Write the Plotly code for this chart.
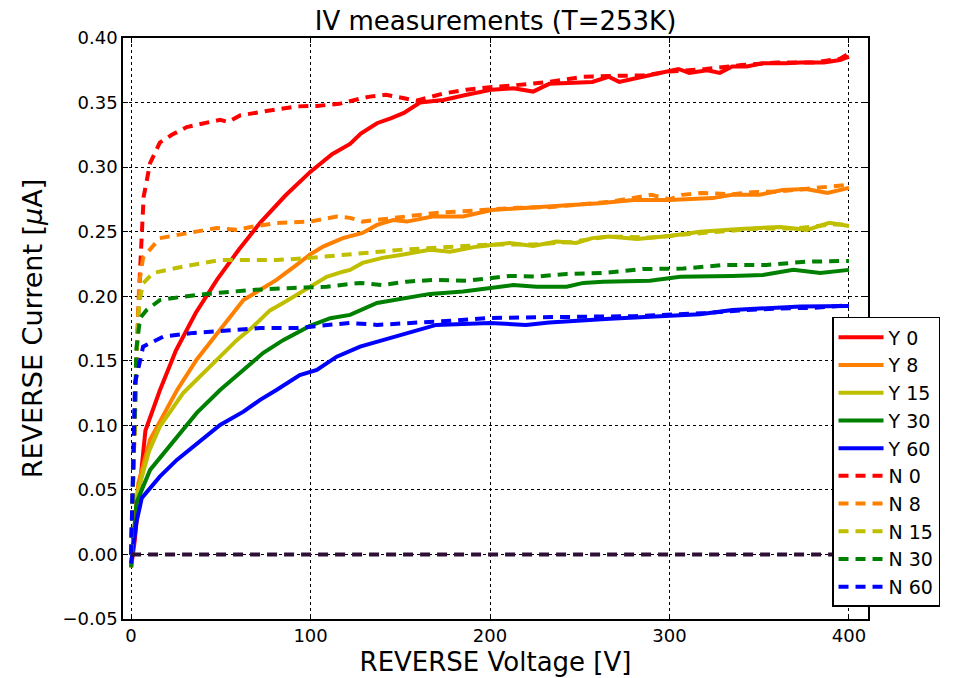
import plotly.graph_objects as go

# ---------------- data ----------------
y0_v = [0, 2, 5, 8, 16, 25, 36, 48, 60, 72, 86, 100, 112, 122, 128, 137, 145, 152, 161, 174, 187, 201, 213, 224, 233, 245, 257, 266, 272, 285, 300, 305, 311, 321, 328, 335, 343, 352, 365, 373, 386, 395, 400]
y0_i = [-0.01, 0.01, 0.055, 0.096, 0.127, 0.158, 0.187, 0.213, 0.236, 0.257, 0.278, 0.2965, 0.310, 0.318, 0.326, 0.334, 0.338, 0.342, 0.350, 0.352, 0.356, 0.360, 0.361, 0.3585, 0.3645, 0.365, 0.366, 0.370, 0.366, 0.370, 0.374, 0.376, 0.373, 0.375, 0.373, 0.378, 0.378, 0.3805, 0.3805, 0.381, 0.381, 0.383, 0.3855]

y8_v = [0, 2, 4, 10.6, 18, 25.5, 36.6, 49.6, 62.6, 72, 81, 90, 100, 107, 118, 129, 137, 146, 153.6, 168, 185, 201, 215, 233, 252, 261, 280, 300, 324, 335, 350, 363, 376, 388, 400]
y8_i = [-0.01, 0.025, 0.055, 0.089, 0.108, 0.127, 0.151, 0.174, 0.197, 0.205, 0.2126, 0.222, 0.2325, 0.2384, 0.245, 0.249, 0.2552, 0.259, 0.2578, 0.2617, 0.2617, 0.2668, 0.268, 0.269, 0.2707, 0.272, 0.2746, 0.2746, 0.276, 0.2785, 0.2785, 0.2823, 0.283, 0.280, 0.2839]

y15_v = [0, 2, 4, 10, 16, 29, 38.4, 49.6, 58.9, 68, 77.4, 84.7, 94, 99.7, 109, 118, 122, 129, 140, 150, 166.6, 177.7, 192.6, 201, 211, 224, 237, 248, 257, 266, 282, 300, 317, 339, 361.6, 376.6, 389, 400]
y15_i = [-0.01, 0.02, 0.05, 0.08, 0.099, 0.125, 0.1377, 0.153, 0.166, 0.1765, 0.189, 0.1948, 0.2025, 0.2074, 0.215, 0.219, 0.2204, 0.2258, 0.2297, 0.232, 0.2359, 0.2345, 0.2384, 0.2397, 0.2413, 0.239, 0.2423, 0.2413, 0.245, 0.2462, 0.2444, 0.2467, 0.250, 0.252, 0.2537, 0.2514, 0.2568, 0.2544]

y30_v = [0, 3, 10.6, 25.5, 36.6, 49.6, 62.6, 73.5, 84.7, 99.7, 111, 122, 137, 150, 166.6, 185, 200, 213, 226, 242.7, 252, 263, 289, 306, 335, 352, 369, 384, 400]
y30_i = [-0.01, 0.04, 0.0655, 0.0912, 0.1096, 0.1274, 0.143, 0.156, 0.166, 0.177, 0.183, 0.1855, 0.1948, 0.198, 0.2018, 0.2036, 0.2064, 0.2087, 0.2074, 0.2074, 0.2103, 0.2113, 0.212, 0.215, 0.2157, 0.2165, 0.2204, 0.218, 0.2204]

y60_v = [0, 3, 6, 16, 25.5, 38.4, 49.6, 62.6, 71.9, 81, 94, 103.5, 114.6, 127.6, 140, 159, 170, 185, 200, 220, 233, 266.8, 298.6, 317, 335, 354, 373, 400]
y60_i = [-0.007, 0.025, 0.0438, 0.0603, 0.0732, 0.0874, 0.1003, 0.1106, 0.1197, 0.1274, 0.139, 0.1429, 0.1532, 0.161, 0.166, 0.173, 0.1778, 0.1785, 0.1793, 0.1778, 0.1796, 0.1825, 0.1845, 0.186, 0.1894, 0.191, 0.192, 0.1925]

n0_v = [0, 1.5, 3, 5, 7, 10.6, 16, 22.7, 31, 44, 49.6, 54, 60.7, 73.5, 92, 103.5, 116, 127.6, 133, 142, 152, 159, 174, 187, 201, 211, 233, 252, 266, 285, 300, 320, 340, 360, 380, 395, 400]
n0_i = [0.0, 0.08, 0.15, 0.22, 0.277, 0.303, 0.319, 0.325, 0.331, 0.335, 0.3366, 0.335, 0.340, 0.343, 0.347, 0.3474, 0.349, 0.353, 0.3546, 0.356, 0.3536, 0.3515, 0.357, 0.360, 0.362, 0.363, 0.366, 0.370, 0.3706, 0.371, 0.374, 0.376, 0.379, 0.381, 0.381, 0.384, 0.388]

n8_v = [0, 1.5, 3, 4.5, 6.7, 16, 25.5, 36.6, 47.7, 58.9, 68, 81, 99.7, 114.6, 122, 129, 146, 159, 170, 181.5, 200, 215, 233, 252, 266, 290, 300, 307, 318, 335, 346, 360, 376, 388, 399]
n8_i = [0.0, 0.08, 0.15, 0.21, 0.230, 0.245, 0.2475, 0.250, 0.2529, 0.2514, 0.254, 0.2567, 0.2578, 0.2617, 0.2607, 0.2578, 0.2607, 0.263, 0.2645, 0.2655, 0.2675, 0.2685, 0.269, 0.271, 0.273, 0.2785, 0.275, 0.2785, 0.280, 0.279, 0.2806, 0.281, 0.283, 0.2849, 0.2862]

n15_v = [0, 1.5, 3, 4.5, 6.7, 12.3, 29, 49.6, 81, 99.7, 118, 127.6, 137, 150, 168, 181.5, 200, 224, 245, 266, 290, 310, 330, 350, 370, 390, 400]
n15_i = [0.0, 0.08, 0.15, 0.195, 0.21, 0.218, 0.223, 0.228, 0.228, 0.2297, 0.232, 0.2328, 0.2345, 0.2359, 0.2374, 0.2384, 0.240, 0.240, 0.242, 0.2462, 0.2455, 0.248, 0.250, 0.2525, 0.2525, 0.2555, 0.2555]

n30_v = [0, 1.5, 3, 5, 8.7, 16, 29, 47.7, 68, 90, 109, 127.6, 140, 153.6, 168, 187, 200, 211, 226, 242.7, 263, 285, 307.6, 330, 354, 376.6, 400]
n30_i = [0.0, 0.08, 0.16, 0.183, 0.1893, 0.197, 0.1997, 0.2025, 0.2049, 0.2064, 0.2074, 0.2103, 0.2087, 0.2113, 0.2126, 0.212, 0.2142, 0.2157, 0.2152, 0.2173, 0.218, 0.2211, 0.2214, 0.2242, 0.2242, 0.2268, 0.2273]

n60_v = [0, 1, 2.2, 5, 6.7, 18, 34.7, 58.9, 71.9, 92.3, 114.6, 122, 137, 159, 177.7, 200, 226, 255.7, 280, 300, 320, 340, 360, 380, 400]
n60_i = [0.0, 0.05, 0.133, 0.15, 0.161, 0.1687, 0.1716, 0.1739, 0.1754, 0.1754, 0.1778, 0.1793, 0.1778, 0.1793, 0.181, 0.1832, 0.184, 0.1842, 0.1845, 0.1855, 0.187, 0.189, 0.1905, 0.191, 0.193]

zero_v = [0, 400]
zero_i = [0.0, 0.0]

names = ["Y 0", "Y 8", "Y 15", "Y 30", "Y 60", "N 0", "N 8", "N 15", "N 30", "N 60"]
volts = [y0_v, y8_v, y15_v, y30_v, y60_v, n0_v, n8_v, n15_v, n30_v, n60_v]
currents = [y0_i, y8_i, y15_i, y30_i, y60_i, n0_i, n8_i, n15_i, n30_i, n60_i]
colors = ["#ff0000", "#ff7f00", "#bfbf00", "#008000", "#0000ff"] * 2
dashes = ["solid"] * 5 + ["10px,7px"] * 5

x_ticks = [0, 100, 200, 300, 400]
y_ticks = [-0.05, 0.0, 0.05, 0.10, 0.15, 0.20, 0.25, 0.30, 0.35, 0.40]

# ---------------- figure ----------------
fig = go.Figure()
for n, v, c, col, d in zip(names, volts, currents, colors, dashes):
    fig.add_trace(go.Scatter(x=v, y=c, mode="lines", name=n,
                             line=dict(color=col, width=4, dash=d)))
fig.add_trace(go.Scatter(x=zero_v, y=zero_i, mode="lines", showlegend=False,
                         line=dict(color="#2e1036", width=4, dash="10px,7px")))

font = "DejaVu Sans"
axis_common = dict(
    showline=True, linecolor="black", linewidth=1.5, mirror="ticks",
    ticks="inside", ticklen=5, tickcolor="black", tickwidth=1,
    showgrid=True, gridcolor="black", gridwidth=1, griddash="dot",
    zeroline=False, automargin=False,
    tickfont=dict(family=font, size=18, color="black"),
)

fig.update_layout(
    width=955, height=678,
    margin=dict(l=123, r=87, t=38, b=59, autoexpand=False),
    paper_bgcolor="white", plot_bgcolor="white",
    title=dict(text="IV measurements (T=253K)", x=0.5189, xanchor="center",
               y=0.969, yanchor="middle", yref="container",
               font=dict(family=font, size=26, color="black")),
    xaxis=dict(range=[-4.5, 410.6], tickvals=x_ticks,
               title=dict(text="REVERSE Voltage [V]", standoff=7,
                          font=dict(family=font, size=26, color="black")),
               **axis_common),
    yaxis=dict(range=[-0.05, 0.40], tickvals=y_ticks, tickformat=".2f",
               title=dict(text="REVERSE Current [<i>μ</i>A]", standoff=12,
                          font=dict(family=font, size=27, color="black")),
               **axis_common),
    legend=dict(x=0.9517, y=0.5198, xanchor="left", yanchor="top",
                bgcolor="white", bordercolor="black", borderwidth=1.5,
                font=dict(family=font, size=19, color="black"),
                itemwidth=45, tracegroupgap=0),
    showlegend=True,
)

fig.write_html("out.html")
